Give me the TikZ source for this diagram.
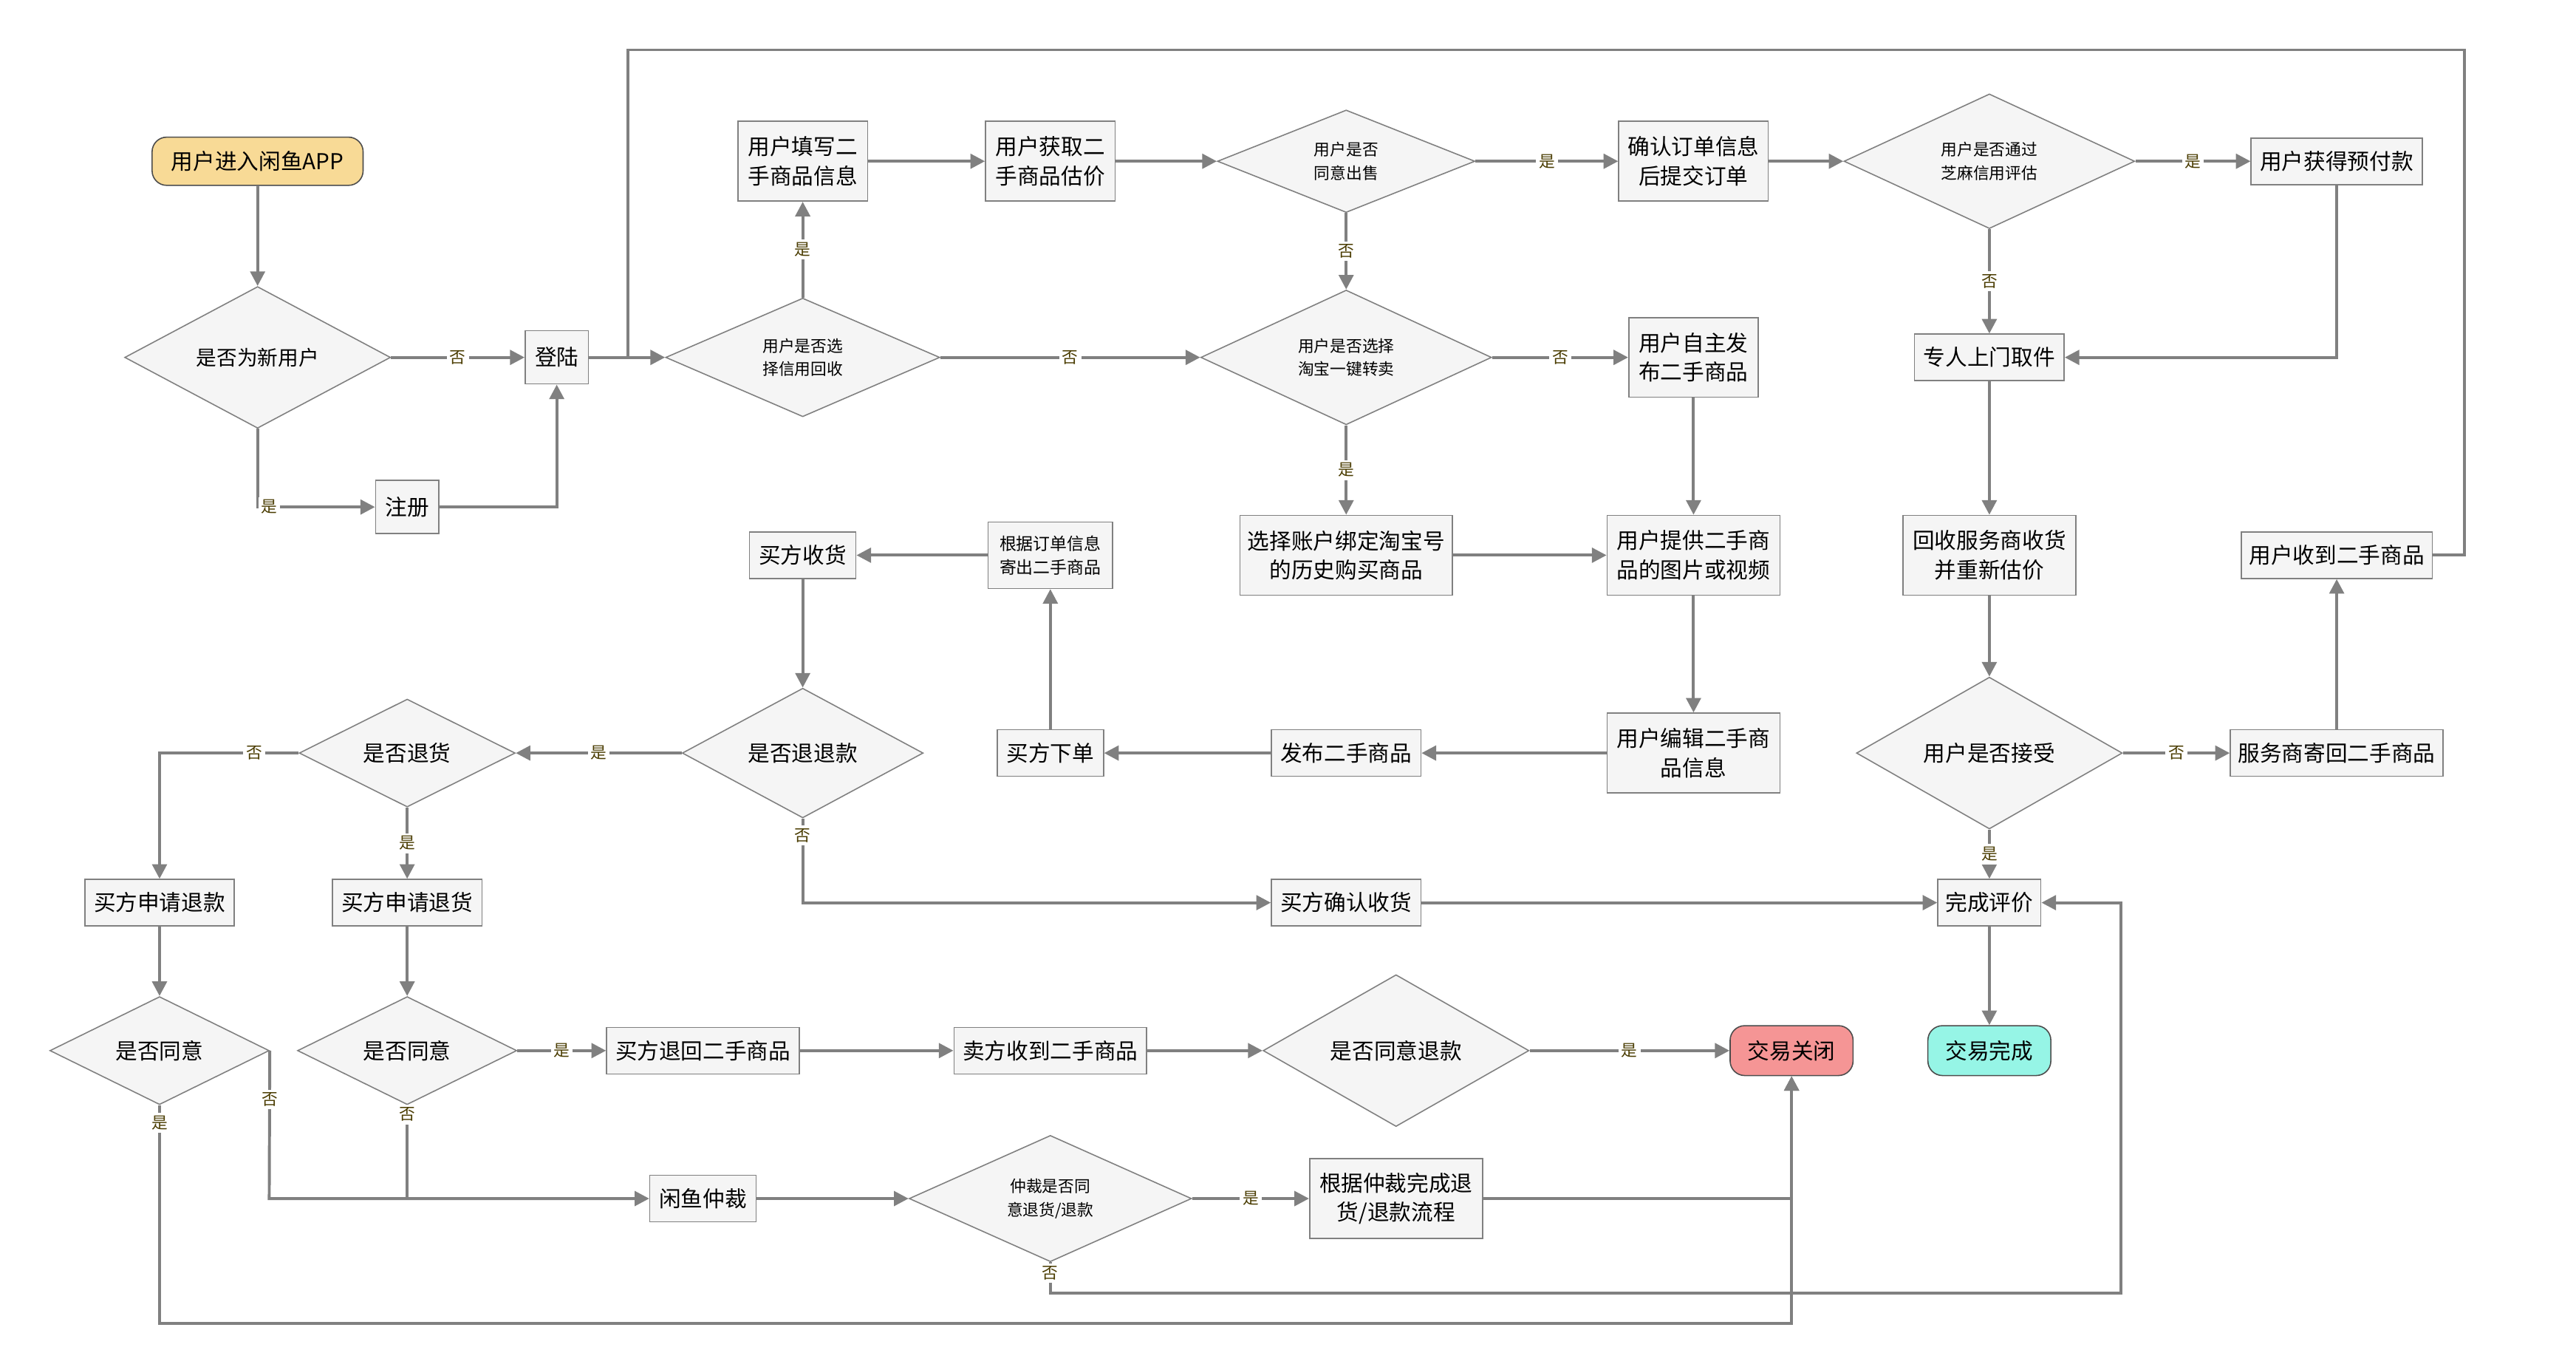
\documentclass[tikz,border=0pt]{standalone}
\usepackage{fontspec}
\setmainfont{Noto Sans CJK SC}
\usetikzlibrary{shapes.geometric, arrows.meta, positioning}
\definecolor{lineGray}{HTML}{808080}
\definecolor{boxFill}{HTML}{F5F5F5}
\definecolor{startFill}{HTML}{F8DA96}
\definecolor{closeFill}{HTML}{F59595}
\definecolor{doneFill}{HTML}{96F5E6}
\definecolor{lblCol}{HTML}{4A3C00}
\tikzstyle{arrow} = [line width=1pt, draw=lineGray, -{Triangle[length=5pt,width=5pt]}]
\tikzstyle{line} = [line width=1pt, draw=lineGray]
\tikzstyle{process} = [rectangle, draw=lineGray, fill=boxFill, align=center, font=\fontsize{7.5}{10}\selectfont, inner sep=1pt, minimum height=0.56cm]
\tikzstyle{terminal} = [rectangle, rounded corners=5pt, draw=black!70, align=center, font=\fontsize{7.5}{10}\selectfont, minimum height=0.58cm]
\tikzstyle{decision} = [diamond, draw=lineGray, fill=boxFill, align=center, font=\fontsize{7}{9}\selectfont, inner sep=0pt]
\tikzstyle{lbl} = [fill=white, text=lblCol, font=\fontsize{5.5}{6}\selectfont, inner sep=1pt]

\begin{document}
\begin{tikzpicture}[x=0.02cm, y=-0.02cm]
\useasboundingbox (0,0) rectangle (1550,822);
% Placement of nodes
\node (start) [terminal, fill=startFill, minimum width=2.54cm] at (155,97) {用户进入闲鱼APP};
\node (newUser) [decision, minimum width=3.2cm, minimum height=1.16cm] at (155,215) {是否为新用户};
\node (login) [process, minimum width=0.76cm, minimum height=0.64cm] at (335,215) {登陆};
\node (reg) [process, minimum width=0.76cm, minimum height=0.64cm] at (245,305) {注册};
\node (credit) [decision, minimum width=3.3cm, minimum height=1.2cm, font=\fontsize{5.5}{8}\selectfont] at (483,215) {用户是否选\\择信用回收};
\node (fillInfo) [process, minimum width=1.56cm, minimum height=0.96cm] at (483,97) {用户填写二\\手商品信息};
\node (getPrice) [process, minimum width=1.56cm, minimum height=0.96cm] at (632,97) {用户获取二\\手商品估价};
\node (agreeSell) [decision, minimum width=3.1cm, minimum height=1.1cm, font=\fontsize{5.5}{8}\selectfont] at (810,97) {用户是否\\同意出售};
\node (confirm) [process, minimum width=1.8cm, minimum height=0.96cm] at (1019,97) {确认订单信息\\后提交订单};
\node (zhima) [decision, minimum width=3.5cm, minimum height=1.24cm, font=\fontsize{5.5}{8}\selectfont] at (1197,97) {用户是否通过\\芝麻信用评估};
\node (prepay) [process, minimum width=2.06cm] at (1406,97) {用户获得预付款};
\node (taobao) [decision, minimum width=3.5cm, minimum height=1.24cm, font=\fontsize{5.5}{8}\selectfont] at (810,215) {用户是否选择\\淘宝一键转卖};
\node (selfPub) [process, minimum width=1.56cm, minimum height=0.96cm] at (1019,215) {用户自主发\\布二手商品};
\node (pickup) [process, minimum width=1.8cm] at (1197,215) {专人上门取件};
\node (history) [process, minimum width=2.56cm, minimum height=0.96cm] at (810,334) {选择账户绑定淘宝号\\的历史购买商品};
\node (photo) [process, minimum width=2.08cm, minimum height=0.96cm] at (1019,334) {用户提供二手商\\品的图片或视频};
\node (reEval) [process, minimum width=2.08cm, minimum height=0.96cm] at (1197,334) {回收服务商收货\\并重新估价};
\node (gotBack) [process, minimum width=2.3cm] at (1406,334) {用户收到二手商品};
\node (ship) [process, minimum width=1.5cm, minimum height=0.8cm, font=\fontsize{5.8}{8}\selectfont] at (632,334) {根据订单信息\\寄出二手商品};
\node (buyerRecv) [process, minimum width=1.28cm] at (483,334) {买方收货};
\node (edit) [process, minimum width=2.08cm, minimum height=0.96cm] at (1019,453) {用户编辑二手商\\品信息};
\node (publish) [process, minimum width=1.8cm] at (810,453) {发布二手商品};
\node (order) [process, minimum width=1.28cm] at (632,453) {买方下单};
\node (refundQ) [decision, minimum width=2.9cm, minimum height=1.1cm, font=\fontsize{7.5}{9}\selectfont] at (483,453) {是否退退款};
\node (returnQ) [decision, minimum width=2.6cm, minimum height=1cm, font=\fontsize{7.5}{9}\selectfont] at (245,453) {是否退货};
\node (accept) [decision, minimum width=3.2cm, minimum height=1.16cm, font=\fontsize{7.5}{9}\selectfont] at (1197,453) {用户是否接受};
\node (sendBack) [process, minimum width=2.56cm] at (1406,453) {服务商寄回二手商品};
\node (askRefund) [process, minimum width=1.8cm] at (96,543) {买方申请退款};
\node (askReturn) [process, minimum width=1.8cm] at (245,543) {买方申请退货};
\node (confirmRecv) [process, minimum width=1.8cm] at (810,543) {买方确认收货};
\node (review) [process, minimum width=1.24cm] at (1197,543) {完成评价};
\node (agree1) [decision, minimum width=2.64cm, minimum height=1cm, font=\fontsize{7.5}{9}\selectfont] at (96,632) {是否同意};
\node (agree2) [decision, minimum width=2.64cm, minimum height=1cm, font=\fontsize{7.5}{9}\selectfont] at (245,632) {是否同意};
\node (returnGoods) [process, minimum width=2.32cm] at (423,632) {买方退回二手商品};
\node (sellerRecv) [process, minimum width=2.32cm] at (632,632) {卖方收到二手商品};
\node (agreeRefund) [decision, minimum width=3.2cm, minimum height=1.16cm, font=\fontsize{7.5}{9}\selectfont] at (840,632) {是否同意退款};
\node (closed) [terminal, fill=closeFill, minimum width=1.48cm, minimum height=0.6cm] at (1078,632) {交易关闭};
\node (done) [terminal, fill=doneFill, minimum width=1.48cm, minimum height=0.6cm] at (1197,632) {交易完成};
\node (arbitrate) [process, minimum width=1.28cm] at (423,721) {闲鱼仲裁};
\node (arbQ) [decision, minimum width=3.4cm, minimum height=1.2cm, font=\fontsize{5.5}{8}\selectfont] at (632,721) {仲裁是否同\\意退货/退款};
\node (arbDone) [process, minimum width=2.08cm, minimum height=0.96cm] at (840,721) {根据仲裁完成退\\货/退款流程};

\coordinate (loopR) at (1483,30);
\coordinate (loopL) at (378,30);
\coordinate (loginJ) at (378,215);
\coordinate (noA1) at (162,721);
\coordinate (noA2) at (245,721);
\coordinate (yesA1) at (96,796);
\coordinate (arbNo) at (632,778);
\coordinate (arbNoR) at (1276,543);

% Placement of edges
\draw [arrow] (start) -- (newUser);
\draw [arrow] (newUser) -- node[lbl] {否} (login);
\draw [arrow] (newUser) |- node[lbl, pos=0.55] {是} (reg);
\draw [arrow] (reg) -| (login);
\draw [arrow] (login) -- (credit);
\draw [line] (gotBack) -| (loopR) -- (loopL) -- (loginJ);

% recycle branch
\draw [arrow] (credit) -- node[lbl] {是} (fillInfo);
\draw [arrow] (fillInfo) -- (getPrice);
\draw [arrow] (getPrice) -- (agreeSell);
\draw [arrow] (agreeSell) -- node[lbl] {是} (confirm);
\draw [arrow] (agreeSell) -- node[lbl] {否} (taobao);
\draw [arrow] (confirm) -- (zhima);
\draw [arrow] (zhima) -- node[lbl] {是} (prepay);
\draw [arrow] (zhima) -- node[lbl] {否} (pickup);
\draw [arrow] (prepay) |- (pickup);
\draw [arrow] (pickup) -- (reEval);
\draw [arrow] (reEval) -- (accept);
\draw [arrow] (accept) -- node[lbl] {否} (sendBack);
\draw [arrow] (sendBack) -- (gotBack);
\draw [arrow] (accept) -- node[lbl] {是} (review);
\draw [arrow] (review) -- (done);

% resale branch
\draw [arrow] (credit) -- node[lbl] {否} (taobao);
\draw [arrow] (taobao) -- node[lbl] {否} (selfPub);
\draw [arrow] (taobao) -- node[lbl] {是} (history);
\draw [arrow] (history) -- (photo);
\draw [arrow] (selfPub) -- (photo);
\draw [arrow] (photo) -- (edit);
\draw [arrow] (edit) -- (publish);
\draw [arrow] (publish) -- (order);
\draw [arrow] (order) -- (ship);
\draw [arrow] (ship) -- (buyerRecv);
\draw [arrow] (buyerRecv) -- (refundQ);

% refund / return
\draw [arrow] (refundQ) -- node[lbl] {是} (returnQ);
\draw [arrow] (returnQ) -| node[lbl, pos=0.16] {否} (askRefund);
\draw [arrow] (returnQ) -- node[lbl] {是} (askReturn);
\draw [arrow] (refundQ) |- node[lbl, pos=0.1] {否} (confirmRecv);
\draw [arrow] (confirmRecv) -- (review);
\draw [arrow] (askRefund) -- (agree1);
\draw [arrow] (askReturn) -- (agree2);
\draw [arrow] (agree2) -- node[lbl] {是} (returnGoods);
\draw [arrow] (returnGoods) -- (sellerRecv);
\draw [arrow] (sellerRecv) -- (agreeRefund);
\draw [arrow] (agreeRefund) -- node[lbl] {是} (closed);
\draw [arrow] (agree1.south) -- node[lbl, pos=0.08] {是} (yesA1) -| (closed);
\draw [arrow] (agree1.east) -- node[lbl, pos=0.33] {否} (noA1) -- (arbitrate);
\draw [line] (agree2.south) -- node[lbl, pos=0.1] {否} (noA2);

% arbitration
\draw [arrow] (arbitrate) -- (arbQ);
\draw [arrow] (arbQ) -- node[lbl] {是} (arbDone);
\draw [arrow] (arbDone) -| (closed);
\draw [arrow] (arbQ.south) -- node[lbl, pos=0.35] {否} (arbNo) -| (arbNoR) -- (review);

\end{tikzpicture}
\end{document}
